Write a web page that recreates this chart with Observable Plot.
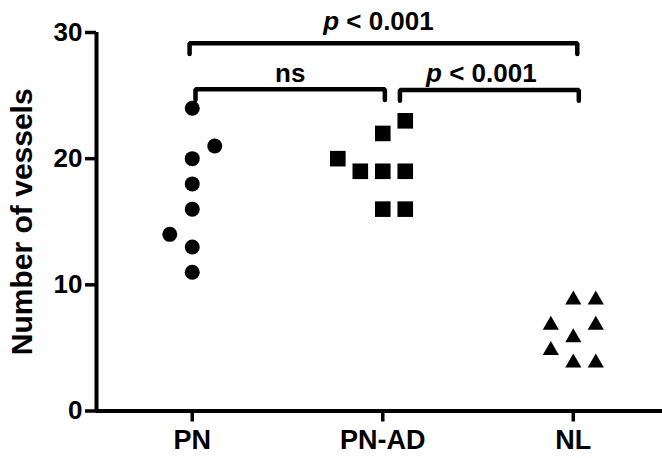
<!DOCTYPE html>
<html><head><meta charset="utf-8">
<script src="https://cdn.jsdelivr.net/npm/d3@7"></script>
<script src="https://cdn.jsdelivr.net/npm/@observablehq/plot@0.6"></script>
<style>body{margin:0;background:#fff}</style>
</head><body><div id="chart"></div>
<script>
// ---- data ----
const groups = ["PN", "PN-AD", "NL"];
const pnValues = [24, 21, 20, 18, 16, 14, 13, 11];
const pnColumns = [0, 1, 0, 0, 0, -1, 0, 0];
const pnadValues = [23, 22, 20, 19, 19, 19, 16, 16];
const pnadColumns = [1, 0, -2, -1, 0, 1, 0, 1];
const nlValues = [9, 9, 7, 7, 6, 5, 4, 4];
const nlColumns = [0, 1, -1, 1, 0, -1, 0, 1];
const yTicks = [0, 10, 20, 30];
const yLabel = "Number of vessels";
const bracketFrom = ["PN", "PN", "PN-AD"];
const bracketTo = ["NL", "PN-AD", "NL"];
const bracketLevel = [29.15, 25.5, 25.45];
const bracketLabel = ["p < 0.001", "ns", "p < 0.001"];

// ---- build tables ----
const colW = 0.118;
function rows(g, vals, cols) {
  const gi = groups.indexOf(g);
  return vals.map((v, i) => ({group: g, value: v, xi: gi + cols[i] * colW}));
}
const pn = rows("PN", pnValues, pnColumns);
const pnad = rows("PN-AD", pnadValues, pnadColumns);
const nl = rows("NL", nlValues, nlColumns);

const nudgeL = [-0.014, 0.017, 0.09];
const nudgeR = [0.021, 0.011, 0.029];
const drop = 0.85;
const bracketPts = [];
const bracketTexts = [];
bracketFrom.forEach((f, i) => {
  const x1 = groups.indexOf(f) + nudgeL[i];
  const x2 = groups.indexOf(bracketTo[i]) + nudgeR[i];
  const yv = bracketLevel[i];
  bracketPts.push({b: i, x: x1, y: yv - drop}, {b: i, x: x1, y: yv}, {b: i, x: x2, y: yv}, {b: i, x: x2, y: yv - drop});
  bracketTexts.push({b: i, x: (x1 + x2) / 2, y: yv, label: bracketLabel[i]});
});

const xDomain = [-0.5026, 2.4682];
const font = "'Liberation Sans', Arial, sans-serif";

const chart = Plot.plot({
  width: 662,
  height: 458,
  marginLeft: 96,
  marginRight: 0,
  marginTop: 32,
  marginBottom: 47.5,
  x: {type: "linear", domain: xDomain},
  y: {domain: [0, 30]},
  style: {fontFamily: font, fontSize: "26px", fontWeight: "bold", color: "black", background: "white"},
  marks: [
    Plot.axisY({ticks: yTicks, tickSize: 11, tickPadding: 3, strokeWidth: 3.5, label: null, fontSize: 26}),
    Plot.axisX({ticks: [0, 1, 2], tickFormat: (d) => groups[d], tickSize: 11, tickPadding: 8, strokeWidth: 3.5, label: null, fontSize: 27}),
    Plot.ruleY([0], {stroke: "black", strokeWidth: 4}),
    Plot.ruleX([xDomain[0]], {stroke: "black", strokeWidth: 4}),
    Plot.text([yLabel], {frameAnchor: "left", rotate: -90, dx: -74, textAnchor: "middle", lineAnchor: "middle", fontSize: 30, fontWeight: "bold"}),
    Plot.dot(pn, {x: "xi", y: "value", symbol: "circle", r: 7.5, fill: "black", stroke: "none"}),
    Plot.dot(pnad, {x: "xi", y: "value", symbol: "square", r: 8.8, fill: "black", stroke: "none"}),
    Plot.dot(nl, {x: "xi", y: "value", symbol: "triangle", r: 6, dy: 2.4, fill: "black", stroke: "none"}),
    Plot.line(bracketPts, {x: "x", y: "y", z: "b", stroke: "black", strokeWidth: 4.5, strokeLinecap: "round", strokeLinejoin: "miter"}),
    Plot.text(bracketTexts.filter(d => d.b === 0), {x: "x", y: "y", text: "label", lineAnchor: "bottom", dy: -13, dx: -5, fontSize: 26, fontWeight: "bold"}),
    Plot.text(bracketTexts.filter(d => d.b === 1), {x: "x", y: "y", text: "label", lineAnchor: "bottom", dy: -7.6, fontSize: 26, fontWeight: "bold"}),
    Plot.text(bracketTexts.filter(d => d.b === 2), {x: "x", y: "y", text: "label", lineAnchor: "bottom", dy: -7.6, dx: -8, fontSize: 26, fontWeight: "bold"})
  ]
});
document.getElementById("chart").appendChild(chart);

// italic "p"
d3.select(chart).selectAll("text").each(function () {
  if (this.textContent === "p < 0.001") {
    const t = d3.select(this);
    t.text(null);
    t.append("tspan").attr("font-style", "italic").text("p");
    t.append("tspan").text(" < 0.001");
  }
});
</script>
</body></html>
